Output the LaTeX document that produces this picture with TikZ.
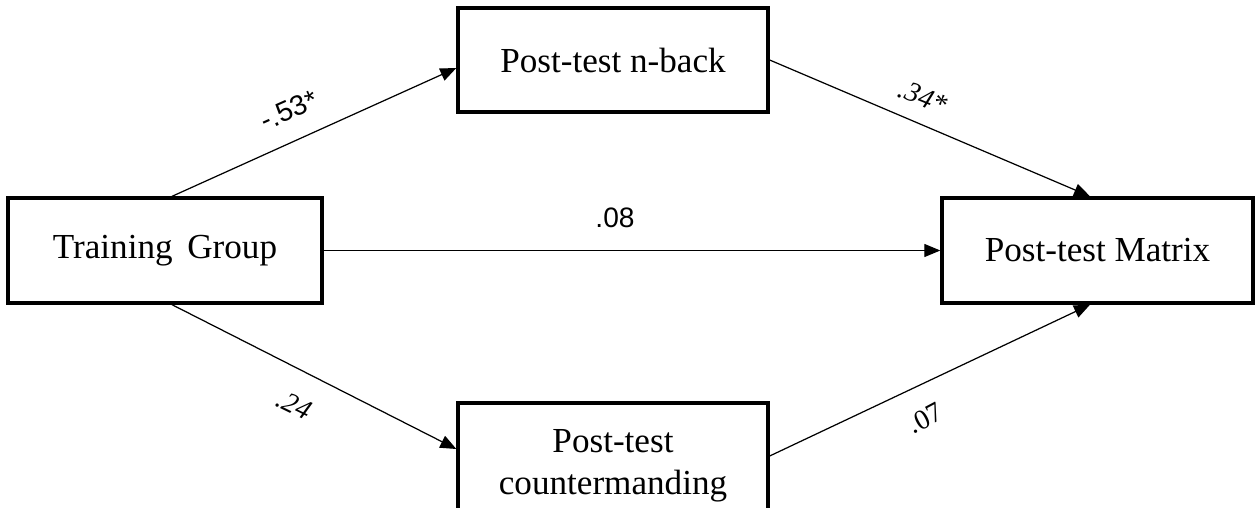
\documentclass[tikz,border=0pt]{standalone}
\usepackage{fontspec}
\setmainfont{Liberation Serif}
\newfontfamily\labsans{Liberation Sans}
\usetikzlibrary{arrows.meta}
\begin{document}
\begin{tikzpicture}[x=0.02cm,y=-0.02cm,
  box/.style={draw,line width=1.9pt,font=\fontsize{20}{24}\selectfont,align=center,inner sep=0pt},
  conn/.style={line width=0.7pt,-{Triangle[length=0.32cm,width=0.26cm]}},
  coef/.style={font=\fontsize{16}{18}\selectfont}]
\useasboundingbox (0,0) rectangle (1257,507);
\clip (0,0) rectangle (1257,507);
\node[box,minimum width=314*0.02cm,minimum height=105*0.02cm] (tg) at (165,250.5) {Training\, Group};
\node[box,minimum width=310*0.02cm,minimum height=104*0.02cm] (nb) at (613,60) {Post-test n-back};
\node[box,minimum width=310*0.02cm,minimum height=126*0.02cm] (ct) at (613,466) {Post-test\\countermanding};
\node[box,minimum width=311*0.02cm,minimum height=105*0.02cm] (mx) at (1097.5,250.5) {Post-test Matrix};
\coordinate (tgn) at ([xshift=0.14cm]tg.north);
\coordinate (tgs) at ([xshift=0.14cm]tg.south);
\coordinate (mxn) at ([xshift=-0.15cm]mx.north);
\coordinate (mxs) at ([xshift=-0.15cm]mx.south);
\coordinate (nbw) at ([yshift=-0.16cm]nb.west);
\coordinate (nbe) at ([yshift=0cm]nb.east);
\coordinate (ctw) at ([yshift=0.34cm]ct.west);
\coordinate (cte) at ([yshift=0.2cm]ct.east);
\draw[conn] (tgn) -- (nbw);
\draw[conn] (tgs) -- (ctw);
\draw[conn] (tg.east) -- (mx.west);
\draw[conn] (nbe) -- (mxn);
\draw[conn] (cte) -- (mxs);
\node[coef,font=\labsans\fontsize{16}{18}\selectfont,rotate=24] (l1) at (289,110) {-.53*};
\node[coef,font=\labsans\fontsize{16}{18}\selectfont] (l3) at (615,218) {.08};
\node[coef,font=\itshape\fontsize{16}{18}\selectfont,rotate=-22] (l2) at (923,97) {.34*};
\node[coef,font=\itshape\fontsize{16}{18}\selectfont,rotate=-26] (l4) at (294,405) {.24};
\node[coef,rotate=28] (l5) at (925,418) {.07};
\end{tikzpicture}
\end{document}
